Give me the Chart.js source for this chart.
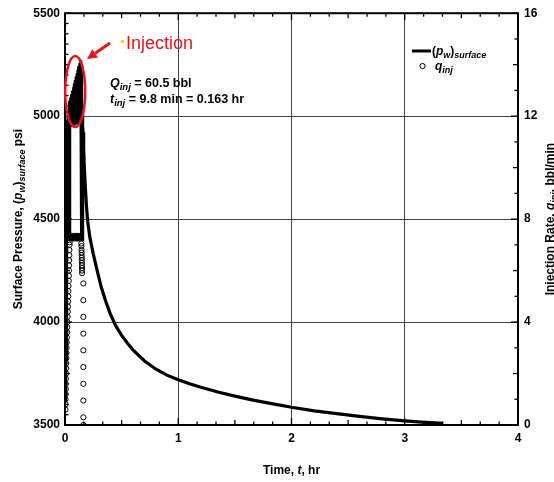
<!DOCTYPE html>
<html>
<head>
<meta charset="utf-8">
<script src="https://cdn.jsdelivr.net/npm/chart.js@4.4.0/dist/chart.umd.min.js"></script>
<style>
  html, body { margin: 0; padding: 0; background: #fff; }
  #chart { display: block; }
</style>
</head>
<body>
<canvas id="chart" width="554" height="482"></canvas>
<script>
/* ---- Data ---- */

// surface pressure, psi vs time, hr
const pressureTime = [
  0, 0.004, 0.007, 0.009, 0.011, 0.013, 0.016, 0.018, 0.021, 0.024, 0.027,
  0.030, 0.033, 0.036, 0.039, 0.041,
  0.043, 0.047, 0.051, 0.055, 0.059, 0.063,
  0.067, 0.071, 0.075, 0.079, 0.083, 0.087, 0.091, 0.095, 0.099, 0.103,
  0.107, 0.111, 0.115, 0.119, 0.123, 0.127, 0.131, 0.135, 0.139, 0.142,
  0.144, 0.147, 0.149, 0.151, 0.153, 0.155, 0.158,
  0.16, 0.165, 0.17, 0.18, 0.19, 0.2, 0.22, 0.25, 0.28, 0.32, 0.36, 0.4,
  0.45, 0.5, 0.55, 0.6, 0.7, 0.8, 0.9, 1.0, 1.1, 1.2, 1.35, 1.5, 1.65,
  1.8, 2.0, 2.2, 2.4, 2.6, 2.8, 3.0, 3.15, 3.34
];
const pressureValue = [
  3620, 3750, 3900, 3820, 4100, 4380, 4700, 4450, 4980, 4420, 5000,
  4430, 5020, 4440, 5045, 4970,
  5075, 4970, 5090, 4955, 5108, 4965,
  5125, 4960, 5140, 4970, 5158, 4958, 5175, 4965, 5192, 4960,
  5208, 4970, 5225, 4962, 5242, 4968, 5258, 4965, 5272, 4980,
  5250, 4420, 5150, 4400, 5050, 4410, 4950,
  4920, 4840, 4760, 4650, 4560, 4490, 4410, 4330, 4260, 4170, 4100, 4040,
  3980, 3935, 3898, 3865, 3812, 3772, 3742, 3720, 3700, 3683, 3660, 3640, 3622,
  3606, 3586, 3569, 3555, 3542, 3530, 3520, 3514, 3508
];

// injection rate, bbl/min vs time, hr
const rateTime = [
  0.004, 0.005, 0.005, 0.006, 0.007, 0.007, 0.008, 0.009, 0.010, 0.011,
  0.012, 0.013, 0.014, 0.016, 0.017, 0.019, 0.020, 0.022, 0.023, 0.025,
  0.026, 0.028, 0.029, 0.030, 0.031, 0.033, 0.034, 0.035, 0.036, 0.037,
  0.038, 0.039, 0.040, 0.041, 0.042,
  0.046, 0.051, 0.056, 0.061, 0.066, 0.071, 0.076, 0.081, 0.086, 0.091,
  0.096, 0.101, 0.106, 0.111, 0.116, 0.121, 0.126, 0.131, 0.136, 0.141,
  0.144, 0.145, 0.146, 0.147, 0.147, 0.148, 0.148, 0.149, 0.149, 0.150, 0.150, 0.151,
  0.162, 0.162, 0.162, 0.162, 0.162, 0.162, 0.162, 0.162, 0.162, 0.162
];
const rateValue = [
  0.6, 0.8, 1.0, 1.2, 1.4, 1.6, 1.8, 2.0, 2.2, 2.4,
  2.6, 2.8, 3.0, 3.2, 3.4, 3.6, 3.8, 4.0, 4.2, 4.4,
  4.6, 4.8, 5.0, 5.2, 5.4, 5.6, 5.8, 6.0, 6.2, 6.4,
  6.6, 6.8, 7.0, 7.1, 7.25,
  7.3, 7.25, 7.35, 7.3, 7.25, 7.3, 7.35, 7.25, 7.3, 7.3,
  7.35, 7.25, 7.3, 7.25, 7.35, 7.3, 7.25, 7.3, 7.35, 7.3,
  7.05, 6.95, 6.8, 6.7, 6.6, 6.5, 6.4, 6.3, 6.2, 6.1, 6.0, 5.9,
  5.5, 4.85, 4.2, 3.55, 2.9, 2.25, 1.6, 0.95, 0.3, 0.0
];

const timeTicks = [0, 1, 2, 3, 4];
const pressureTicks = [3500, 4000, 4500, 5000, 5500];
const rateTicks = [0, 4, 8, 12, 16];

/* ---- Fonts ---- */
const FAM = '"Liberation Sans", Arial, sans-serif';
const B = 'bold 12px ' + FAM;
const BI = 'italic bold 12px ' + FAM;
const SUB = 'italic bold 9px ' + FAM;
const NB = 'bold 12.5px ' + FAM;
const NBI = 'italic bold 12.5px ' + FAM;
const NSUB = 'italic bold 9.5px ' + FAM;

Chart.defaults.font.family = FAM;
Chart.defaults.color = '#000';

function richText(ctx, parts, x, y, align) {
  let w = 0;
  parts.forEach(p => { ctx.font = p[1]; w += ctx.measureText(p[0]).width; });
  let cx = align === 'center' ? x - w / 2 : x;
  parts.forEach(p => {
    ctx.font = p[1];
    ctx.fillText(p[0], cx, y + (p[2] || 0));
    cx += ctx.measureText(p[0]).width;
  });
}

function seg(ctx, x1, y1, x2, y2) {
  ctx.beginPath();
  ctx.moveTo(x1, y1);
  ctx.lineTo(x2, y2);
  ctx.stroke();
}

/* ---- Frame, inward ticks, titles, notes ---- */
const decorations = {
  id: 'decorations',
  afterDraw(chart) {
    const { ctx, chartArea: a, scales } = chart;
    const sx = scales.x, sy = scales.y, sq = scales.y1;
    ctx.save();

    // inward ticks
    ctx.strokeStyle = '#000';
    ctx.lineWidth = 1.3;
    for (let k = 0; k <= 24; k++) {
      const px = sx.getPixelForValue(k / 6);
      const len = k % 6 === 0 ? 7 : (k % 3 === 0 ? 5 : 3.5);
      seg(ctx, px, a.bottom, px, a.bottom - len);
      seg(ctx, px, a.top, px, a.top + len);
    }
    for (let p = 3500; p <= 5500; p += 50) {
      const py = sy.getPixelForValue(p);
      const len = p % 500 === 0 ? 7 : (p % 250 === 0 ? 5 : 3.5);
      seg(ctx, a.left, py, a.left + len, py);
    }
    for (let q = 0; q <= 16; q++) {
      const py = sq.getPixelForValue(q);
      const len = q % 4 === 0 ? 7 : (q % 2 === 0 ? 5 : 3.5);
      seg(ctx, a.right, py, a.right - len, py);
    }

    // frame
    ctx.lineWidth = 2;
    ctx.strokeRect(a.left, a.top, a.right - a.left, a.bottom - a.top);

    // axis titles
    ctx.fillStyle = '#000';
    ctx.textBaseline = 'alphabetic';
    richText(ctx, [['Time, ', B], ['t', BI], [', hr', B]], (a.left + a.right) / 2, 474, 'center');

    ctx.save();
    ctx.translate(22, (a.top + a.bottom) / 2);
    ctx.rotate(-Math.PI / 2);
    richText(ctx, [
      ['Surface Pressure, (', B], ['p', BI], ['w', SUB, 3], [')', B],
      ['surface', SUB, 3], [' psi', B]
    ], 0, 0, 'center');
    ctx.restore();

    ctx.save();
    ctx.translate(554, (a.top + a.bottom) / 2);
    ctx.rotate(-Math.PI / 2);
    richText(ctx, [
      ['Injection Rate, ', B], ['q', BI], ['inj', SUB, 3], [', bbl/min', B]
    ], 0, 0, 'center');
    ctx.restore();

    // legend
    ctx.lineWidth = 3;
    seg(ctx, 412, 51, 431, 51);
    richText(ctx, [['(', B], ['p', BI], ['w', SUB, 3], [')', B], ['surface', SUB, 3]], 432, 55);
    ctx.lineWidth = 1;
    ctx.beginPath();
    ctx.arc(422.5, 66, 2.6, 0, Math.PI * 2);
    ctx.stroke();
    richText(ctx, [['q', BI], ['inj', SUB, 3]], 435, 70);

    // injection notes
    richText(ctx, [['Q', NBI], ['inj', NSUB, 3], [' = 60.5 bbl', NB]], 110, 87);
    richText(ctx, [['t', NBI], ['inj', NSUB, 3], [' = 9.8 min = 0.163 hr', NB]], 110, 103);

    // red ellipse around the injection period
    const ex = sx.getPixelForValue(0.09);
    const ey = sy.getPixelForValue(5120);
    ctx.strokeStyle = '#e8141c';
    ctx.lineWidth = 2.5;
    ctx.beginPath();
    ctx.ellipse(ex, ey, 10, 35.5, 0, 0, Math.PI * 2);
    ctx.stroke();

    // arrow
    const tipX = 87, tipY = 59, tailX = 110, tailY = 43;
    const ang = Math.atan2(tipY - tailY, tipX - tailX);
    const hl = 10, hw = 5;
    const bx = tipX - hl * Math.cos(ang), by = tipY - hl * Math.sin(ang);
    ctx.lineWidth = 3;
    seg(ctx, tailX, tailY, bx, by);
    ctx.fillStyle = '#e8141c';
    ctx.beginPath();
    ctx.moveTo(tipX, tipY);
    ctx.lineTo(bx + hw * Math.sin(ang), by - hw * Math.cos(ang));
    ctx.lineTo(bx - hw * Math.sin(ang), by + hw * Math.cos(ang));
    ctx.closePath();
    ctx.fill();

    ctx.fillStyle = '#f2e600';
    ctx.beginPath();
    ctx.arc(122.5, 41.5, 1.8, 0, Math.PI * 2);
    ctx.fill();

    ctx.fillStyle = '#e8141c';
    ctx.font = '18px ' + FAM;
    ctx.fillText('Injection', 126, 49);

    ctx.restore();
  }
};

/* ---- Chart ---- */
const tickFont = { family: FAM, size: 12, weight: 'bold' };
const gridStyle = { color: '#444', lineWidth: 1, drawTicks: false };

new Chart(document.getElementById('chart'), {
  type: 'scatter',
  data: {
    datasets: [
      {
        label: 'pressure',
        data: pressureTime.map((t, i) => ({ x: t, y: pressureValue[i] })),
        yAxisID: 'y',
        showLine: true,
        borderColor: '#000',
        borderWidth: 3.2,
        pointRadius: 0,
        tension: 0,
      },
      {
        label: 'rate',
        data: rateTime.map((t, i) => ({ x: t, y: rateValue[i] })),
        yAxisID: 'y1',
        showLine: false,
        pointRadius: 2.6,
        pointBorderWidth: 1,
        borderColor: '#000',
        backgroundColor: 'rgba(0,0,0,0)',
      }
    ]
  },
  options: {
    responsive: false,
    animation: false,
    devicePixelRatio: 1,
    layout: { padding: { top: 12, left: 0, right: 0, bottom: 0 } },
    plugins: { legend: { display: false }, tooltip: { enabled: false } },
    scales: {
      x: {
        type: 'linear', min: 0, max: 4,
        afterBuildTicks: s => { s.ticks = timeTicks.map(v => ({ value: v })); },
        afterFit: s => { s.height = 57; },
        grid: gridStyle,
        border: { display: false },
        ticks: { font: tickFont, color: '#000', padding: 6, maxRotation: 0, callback: v => String(v) }
      },
      y: {
        type: 'linear', position: 'left', min: 3500, max: 5500,
        afterBuildTicks: s => { s.ticks = pressureTicks.map(v => ({ value: v })); },
        afterFit: s => { s.width = 65; },
        grid: gridStyle,
        border: { display: false },
        ticks: { font: tickFont, color: '#000', padding: 5, callback: v => String(v) }
      },
      y1: {
        type: 'linear', position: 'right', min: 0, max: 16,
        afterBuildTicks: s => { s.ticks = rateTicks.map(v => ({ value: v })); },
        afterFit: s => { s.width = 36; },
        grid: { drawOnChartArea: false, drawTicks: false },
        border: { display: false },
        ticks: { font: tickFont, color: '#000', padding: 6, callback: v => String(v) }
      }
    }
  },
  plugins: [decorations]
});
</script>
</body>
</html>
